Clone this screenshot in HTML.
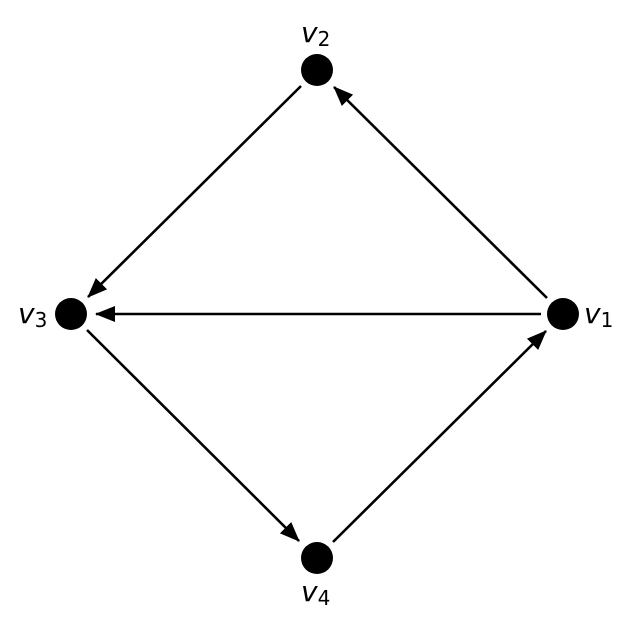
<!DOCTYPE html>
<html><head><style>body{margin:0;background:#fff}svg{display:block}</style></head><body>
<svg width="633" height="629" viewBox="0 0 633 629" xmlns="http://www.w3.org/2000/svg">
<defs><marker id="a" markerWidth="20" markerHeight="16" refX="19" refY="8" orient="auto" markerUnits="userSpaceOnUse"><path d="M0,0 L20,8 L0,16 Z" fill="#000"/></marker></defs>
<g stroke="#000" stroke-width="2.6" fill="none" marker-end="url(#a)">
<line x1="301" y1="86" x2="88" y2="297"/>
<line x1="547" y1="298" x2="334" y2="87"/>
<line x1="541" y1="314" x2="96" y2="314"/>
<line x1="87" y1="330" x2="299" y2="541"/>
<line x1="333" y1="542" x2="546" y2="331"/>
</g>
<g fill="#000">
<circle cx="317" cy="70" r="16"/><circle cx="71" cy="314" r="16"/><circle cx="563" cy="314" r="16"/><circle cx="317" cy="558" r="16"/>
</g>
<g font-family="DejaVu Sans, sans-serif" font-size="28" font-style="italic">
<text x="301" y="42">v<tspan font-style="normal" font-size="20" dy="4">2</tspan></text>
<text x="18" y="323">v<tspan font-style="normal" font-size="20" dy="4">3</tspan></text>
<text x="584" y="323">v<tspan font-style="normal" font-size="20" dy="4">1</tspan></text>
<text x="301" y="601">v<tspan font-style="normal" font-size="20" dy="4">4</tspan></text>
</g>
</svg>
</body></html>
